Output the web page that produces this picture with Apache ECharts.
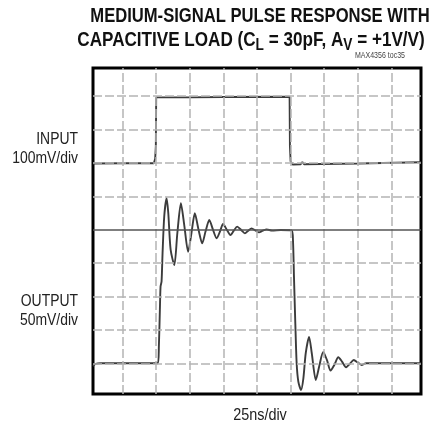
<!DOCTYPE html>
<html>
<head>
<meta charset="utf-8">
<script src="https://cdn.jsdelivr.net/npm/echarts@6/dist/echarts.min.js"></script>
<style>
html,body{margin:0;padding:0;background:#fff;}
#chart{width:440px;height:427px;}
</style>
</head>
<body>
<div id="chart"></div>
<script>
// Screen divisions (x: 25ns/div, y: graticule divisions from bottom)
var xRange = [0.12, 9.88];
var yRange = [0.08, 9.84];
var xGridDivs = [1, 2, 3, 4, 5, 6, 7, 8, 9];
var yGridDivs = [1, 2, 3, 4, 6, 7, 8, 9];
var yCenterLine = 5;

// INPUT trace (100mV/div)
var inputTrace = [
  [0.12, 6.98], [1.0, 6.99], [1.93, 6.99], [1.97, 7.12], [1.99, 7.5], [2.0, 8.96],
  [3.0, 8.96], [4.0, 8.97], [5.97, 8.98], [5.98, 7.5], [6.0, 7.05], [6.06, 6.95],
  [6.3, 6.96], [6.35, 7.02], [6.4, 6.96], [8.0, 6.98], [9.88, 7.02]
];

// OUTPUT trace (50mV/div)
var outputTrace = [
  [0.12, 0.92], [0.2, 0.98], [0.35, 1.0], [1.0, 1.0], [2.05, 1.0], [2.08, 1.5],
  [2.11, 2.6], [2.13, 3.3], [2.16, 3.45], [2.19, 4.3], [2.24, 5.4], [2.31, 5.94],
  [2.36, 5.5], [2.43, 4.4], [2.54, 3.94], [2.63, 4.9], [2.735, 5.79], [2.84, 5.1],
  [2.95, 4.34], [3.05, 4.9], [3.15, 5.49], [3.26, 5.0], [3.37, 4.59], [3.47, 4.95],
  [3.58, 5.29], [3.69, 5.0], [3.80, 4.74], [3.9, 4.95], [3.99, 5.17], [4.1, 5.0],
  [4.21, 4.84], [4.31, 4.97], [4.41, 5.09], [4.53, 4.99], [4.64, 4.89], [4.74, 4.97],
  [4.84, 5.04], [4.95, 4.98], [5.06, 4.92], [5.17, 4.97], [5.29, 5.01], [5.45, 4.97],
  [5.7, 4.99], [6.03, 4.98], [6.07, 4.7], [6.10, 3.6], [6.14, 2.2], [6.18, 1.0],
  [6.23, 0.45], [6.31, 0.2], [6.38, 0.55], [6.45, 1.3], [6.55, 1.79], [6.63, 1.3],
  [6.75, 0.5], [6.86, 0.95], [6.97, 1.34], [7.08, 1.1], [7.19, 0.78], [7.3, 0.95],
  [7.42, 1.18], [7.53, 1.05], [7.65, 0.88], [7.76, 0.98], [7.88, 1.10], [8.0, 1.02],
  [8.11, 0.95], [8.25, 1.0], [9.88, 1.0]
];

var titleLine1 = 'MEDIUM-SIGNAL PULSE RESPONSE WITH';
var titleLine2 = '{m|CAPACITIVE LOAD (C}{s|L}{m| = 30pF, A}{s|V}{m| = +1V/V)}';
var noteText = 'MAX4356 toc35';
var inputLabel = 'INPUT\n100mV/div';
var outputLabel = 'OUTPUT\n50mV/div';
var xLabel = '25ns/div';

var FONT = '"Liberation Sans", Arial, sans-serif';
var gridStyle = { color: '#b4b4b4', width: 1.5, type: [9, 3] };

var markData = [];
xGridDivs.forEach(function (v) { markData.push({ xAxis: v, lineStyle: gridStyle }); });
yGridDivs.forEach(function (v) { markData.push({ yAxis: v, lineStyle: gridStyle }); });
markData.push({ yAxis: yCenterLine, lineStyle: { color: '#555', width: 1.6, type: 'solid' } });

var chart = echarts.init(document.getElementById('chart'), null, { renderer: 'canvas' });
chart.setOption({
  animation: false,
  backgroundColor: '#fff',
  grid: { left: 93, right: 19, top: 68, bottom: 33, show: true, borderColor: '#000', borderWidth: 3, backgroundColor: 'transparent' },
  xAxis: { type: 'value', min: xRange[0], max: xRange[1], axisLine: { show: false }, axisTick: { show: false }, axisLabel: { show: false }, splitLine: { show: false } },
  yAxis: { type: 'value', min: yRange[0], max: yRange[1], axisLine: { show: false }, axisTick: { show: false }, axisLabel: { show: false }, splitLine: { show: false } },
  series: [
    { type: 'line', data: [], silent: true, z: 1,
      markLine: { silent: true, symbol: 'none', label: { show: false }, animation: false, data: markData } },
    { type: 'line', data: inputTrace, showSymbol: false, silent: true, z: 3,
      lineStyle: { color: '#3c3c3c', width: 1.9 } },
    { type: 'line', data: outputTrace, showSymbol: false, silent: true, z: 3, smooth: 0.25,
      lineStyle: { color: '#3c3c3c', width: 1.9 } }
  ],
  graphic: [
    { type: 'text', x: 260, y: 16, scaleX: 0.83, style: { text: titleLine1, font: 'bold 20px ' + FONT, fill: '#111', align: 'center', verticalAlign: 'middle' } },
    { type: 'text', x: 251, y: 40, scaleX: 0.855, style: { text: titleLine2, align: 'center', verticalAlign: 'middle', fill: '#111',
        rich: { m: { font: 'bold 20px ' + FONT, fill: '#111', lineHeight: 28, verticalAlign: 'middle' },
                s: { font: 'bold 16px ' + FONT, fill: '#111', lineHeight: 28, verticalAlign: 'bottom' } } } },
    { type: 'text', x: 405, y: 55, scaleX: 0.74, style: { text: noteText, font: '9.5px ' + FONT, fill: '#444', align: 'right', verticalAlign: 'middle' } },
    { type: 'text', x: 78, y: 149, scaleX: 0.87, style: { text: inputLabel, font: '16px ' + FONT, fill: '#222', align: 'right', verticalAlign: 'middle', lineHeight: 19 } },
    { type: 'text', x: 78, y: 311, scaleX: 0.87, style: { text: outputLabel, font: '16px ' + FONT, fill: '#222', align: 'right', verticalAlign: 'middle', lineHeight: 19 } },
    { type: 'text', x: 260, y: 416, scaleX: 0.9, style: { text: xLabel, font: '16px ' + FONT, fill: '#222', align: 'center', verticalAlign: 'middle' } }
  ]
});
</script>
</body>
</html>
